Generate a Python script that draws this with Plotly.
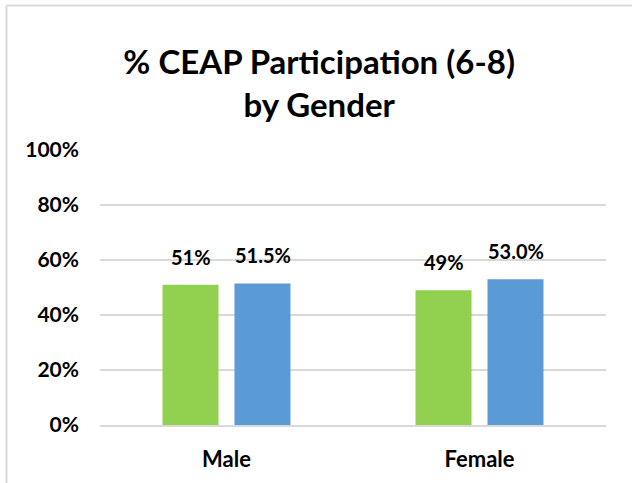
import plotly.graph_objects as go

categories = ["Male", "Female"]
series_a = [0.51, 0.49]
series_b = [0.515, 0.53]
labels_a = ["51%", "49%"]
labels_b = ["51.5%", "53.0%"]

FONT = "Lato"
GREEN = "#92D050"
BLUE = "#5B9BD5"
GRID = "#D9D9D9"

fig = go.Figure()

fig.add_trace(go.Bar(x=categories, y=series_a, marker=dict(color=GREEN, line=dict(width=0)),
                     showlegend=False, hoverinfo="skip"))
fig.add_trace(go.Bar(x=categories, y=series_b, marker=dict(color=BLUE, line=dict(width=0)),
                     showlegend=False, hoverinfo="skip"))

# data labels above each bar
for cat, val, lab in zip(categories, series_a, labels_a):
    fig.add_annotation(x=cat, y=val, text=lab, xref="x", yref="y", showarrow=False,
                       xshift=-36, yshift=14, yanchor="bottom",
                       font=dict(family=FONT, size=20, color="#000000", weight="bold"))
for cat, val, lab in zip(categories, series_b, labels_b):
    fig.add_annotation(x=cat, y=val, text=lab, xref="x", yref="y", showarrow=False,
                       xshift=36, yshift=14, yanchor="bottom",
                       font=dict(family=FONT, size=20, color="#000000", weight="bold"))

# chart border (left and top visible)
bx = (6.5 - 100) / 506
by = (425 - 5.5) / 275
fig.add_shape(type="line", xref="paper", yref="paper", x0=bx, y0=-0.3, x1=bx, y1=by,
              line=dict(color=GRID, width=2))
fig.add_shape(type="line", xref="paper", yref="paper", x0=bx, y0=by, x1=1.2, y1=by,
              line=dict(color=GRID, width=2))

fig.update_layout(
    width=632, height=483,
    margin=dict(l=100, r=26, t=150, b=58),
    plot_bgcolor="white", paper_bgcolor="white",
    barmode="group", bargap=0.431, bargroupgap=0.222,
    title=dict(text="% CEAP Participation (6-8)<br>by Gender", x=0.505, xanchor="center",
               y=(483 - 74) / 483, yanchor="middle", yref="container",
               font=dict(family=FONT, size=33, color="#000000", weight="bold")),
)

fig.update_yaxes(range=[0, 1], tickvals=[0, 0.2, 0.4, 0.6, 0.8, 1.0], tickformat=".0%",
                 showgrid=True, gridcolor=GRID, gridwidth=2, zeroline=False,
                 showline=False, ticks="", ticklabelstandoff=20,
                 tickfont=dict(family=FONT, size=21, color="#000000", weight="bold"),
                 fixedrange=True)
fig.update_xaxes(showline=True, linecolor=GRID, linewidth=2, ticks="", ticklabelstandoff=14,
                 tickfont=dict(family=FONT, size=22, color="#000000", weight="bold"),
                 fixedrange=True)

fig.write_html("out.html", config={"displayModeBar": False},
               post_script="document.body.style.margin='0';")
